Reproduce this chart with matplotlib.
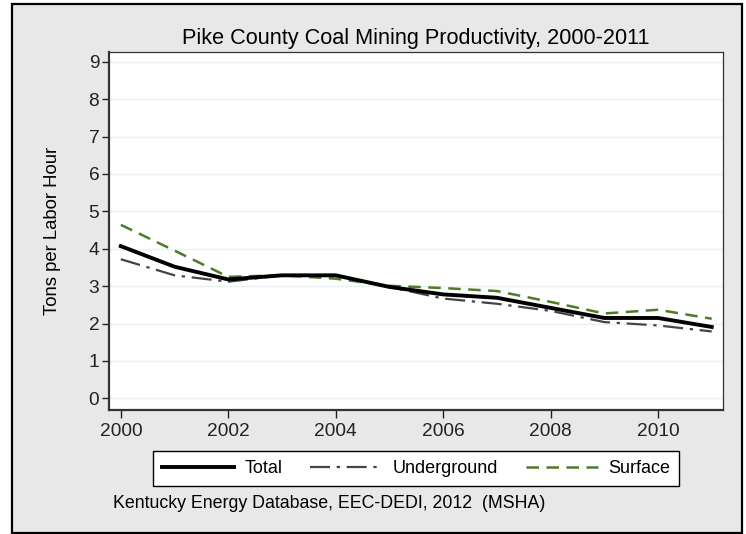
import matplotlib.pyplot as plt
from matplotlib.patches import Rectangle

# values
years = [2000, 2001, 2002, 2003, 2004, 2005, 2006, 2007, 2008, 2009, 2010, 2011]
total = [4.07, 3.52, 3.18, 3.29, 3.29, 2.98, 2.78, 2.69, 2.42, 2.15, 2.15, 1.91]
underground = [3.72, 3.29, 3.12, 3.29, 3.29, 2.98, 2.67, 2.53, 2.34, 2.04, 1.95, 1.79]
surface = [4.64, 3.95, 3.25, 3.29, 3.20, 3.01, 2.95, 2.87, 2.58, 2.27, 2.37, 2.13]
x_ticks = [2000, 2002, 2004, 2006, 2008, 2010]
y_ticks = list(range(0, 10))

plt.rcParams["font.family"] = ["Liberation Sans", "DejaVu Sans"]

W, H = 746, 534
fig = plt.figure(figsize=(W / 100, H / 100), dpi=100)
fig.patch.set_facecolor("white")

# gray outer panel with black frame
fig.patches.append(Rectangle((12 / W, 1 - 533 / H), 730 / W, 529 / H,
                             transform=fig.transFigure, facecolor="#e8e8e8",
                             edgecolor="black", linewidth=1.6, zorder=-5))

left, right, top, bottom = 109, 723, 52, 410
ax = fig.add_axes([left / W, 1 - bottom / H, (right - left) / W, (bottom - top) / H])
ax.set_facecolor("white")

ax.plot(years, total, color="black", lw=2.8, label="Total", zorder=3)
ax.plot(years, underground, color="#444444", lw=1.6, linestyle=(0, (9, 3, 1.5, 3)),
        label="Underground", zorder=2)
ax.plot(years, surface, color="#4f7a28", lw=1.8, linestyle=(0, (5, 3)),
        label="Surface", zorder=2)

ax.set_xlim(1999.78, 2011.21)
ax.set_ylim(-0.31, 9.26)
ax.set_xticks(x_ticks)
ax.set_yticks(y_ticks)
ax.grid(axis="y", color="#e8f0f1", lw=1.0)
ax.set_axisbelow(True)

for s in ["top", "right"]:
    ax.spines[s].set_linewidth(0.9)
    ax.spines[s].set_color("#333333")
for s in ["left", "bottom"]:
    ax.spines[s].set_linewidth(1.6)
    ax.spines[s].set_color("#333333")

ax.tick_params(axis="both", labelsize=13.8, colors="#222222", direction="out", width=1)
ax.tick_params(axis="y", length=5, pad=2)
ax.tick_params(axis="x", length=6, pad=3)

ax.set_ylabel("Tons per Labor Hour", fontsize=13.3, labelpad=20)
ax.set_title("Pike County Coal Mining Productivity, 2000-2011", fontsize=15.6, pad=6)

leg = fig.legend(loc="center", bbox_to_anchor=(416 / W, 1 - 468.5 / H), ncol=3,
                 fontsize=13, frameon=True, fancybox=False, framealpha=1,
                 handlelength=4.0, columnspacing=1.55, handletextpad=0.55, borderpad=0.5)
leg.get_frame().set_edgecolor("black")
leg.get_frame().set_facecolor("white")
leg.get_frame().set_linewidth(1.0)

fig.text(113 / W, 1 - 504 / H, "Kentucky Energy Database, EEC-DEDI, 2012  (MSHA)",
         fontsize=12.8, va="center", ha="left")

fig.savefig("out.png", dpi=100, facecolor=fig.get_facecolor())
